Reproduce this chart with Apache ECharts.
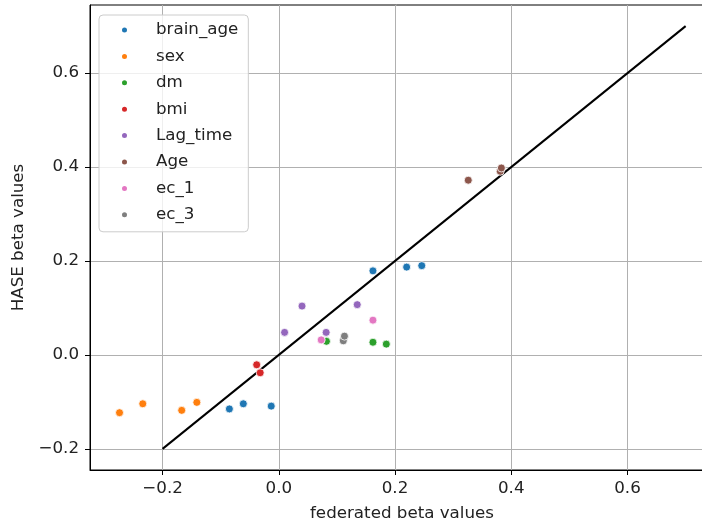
<!DOCTYPE html>
<html>
<head>
<meta charset="utf-8">
<script src="https://cdn.jsdelivr.net/npm/echarts@6/dist/echarts.min.js"></script>
<style>
  html, body { margin: 0; padding: 0; background: #fff; }
  #chart { width: 702px; height: 525px; }
</style>
</head>
<body>
<div id="chart"></div>
<script>
// Covariate effect estimates: federated (x) vs HASE (y)
const covariates = ['brain_age', 'sex', 'dm', 'bmi', 'Lag_time', 'Age', 'ec_1', 'ec_3'];

const brain_age = [[-0.085, -0.115], [-0.061, -0.104], [-0.013, -0.109], [0.162, 0.179], [0.220, 0.187], [0.246, 0.190]];
const sex       = [[-0.274, -0.123], [-0.234, -0.104], [-0.167, -0.118], [-0.141, -0.101]];
const dm        = [[0.082, 0.029], [0.162, 0.027], [0.185, 0.023]];
const bmi       = [[-0.038, -0.021], [-0.032, -0.038]];
const Lag_time  = [[0.010, 0.048], [0.040, 0.104], [0.0815, 0.048], [0.135, 0.107]];
const Age       = [[0.326, 0.372], [0.381, 0.391], [0.383, 0.398]];
const ec_1      = [[0.073, 0.032], [0.162, 0.074]];
const ec_3      = [[0.111, 0.030], [0.113, 0.040]];

const seriesValues = [brain_age, sex, dm, bmi, Lag_time, Age, ec_1, ec_3];

// identity reference line y = x
const identityLine = [[-0.2, -0.2], [0.7, 0.7]];

const xTicks = [-0.2, 0.0, 0.2, 0.4, 0.6];
const yTicks = [-0.2, 0.0, 0.2, 0.4, 0.6];

const palette = ['#1f77b4', '#ff7f0e', '#2ca02c', '#d62728', '#9467bd', '#8c564b', '#e377c2', '#7f7f7f'];

const fmt = v => v.toFixed(1).replace('-', '\u2212');
const FONT = '"DejaVu Sans", sans-serif';
const FS = 16.7;

const chart = echarts.init(document.getElementById('chart'), null, { renderer: 'canvas' });

const scatterSeries = covariates.map((name, i) => ({
  name: name,
  type: 'scatter',
  data: seriesValues[i],
  symbol: 'circle',
  symbolSize: 8,
  z: 3,
  itemStyle: { color: palette[i], borderColor: '#ffffff', borderWidth: 0.8, opacity: 1 },
  emphasis: { disabled: true }
}));

const axisCommon = {
  type: 'value',
  axisLine: { show: true, onZero: false, lineStyle: { color: '#000', width: 1 } },
  axisTick: { show: true, length: 5, inside: false, lineStyle: { color: '#000', width: 1 } },
  axisLabel: { color: '#222', fontFamily: FONT, fontSize: FS, formatter: fmt },
  splitLine: { show: true, lineStyle: { color: '#b0b0b0', width: 1 } },
  nameLocation: 'middle',
  nameTextStyle: { color: '#222', fontFamily: FONT, fontSize: FS }
};

chart.setOption({
  animation: false,
  backgroundColor: '#ffffff',
  color: palette,
  grid: {
    left: 90, top: 5, width: 624, height: 465,
    show: true, borderColor: '#000', borderWidth: 1, backgroundColor: 'transparent',
    outerBoundsMode: 'none'
  },
  xAxis: Object.assign({}, axisCommon, {
    min: -0.3248, max: 0.7488,
    name: 'federated beta values',
    nameGap: 35,
    axisLabel: Object.assign({}, axisCommon.axisLabel, { customValues: xTicks, margin: 10 }),
    axisTick: Object.assign({}, axisCommon.axisTick, { customValues: xTicks })
  }),
  yAxis: Object.assign({}, axisCommon, {
    min: -0.245, max: 0.745,
    name: 'HASE beta values',
    nameGap: 62,
    axisLabel: Object.assign({}, axisCommon.axisLabel, { customValues: yTicks, margin: 11 }),
    axisTick: Object.assign({}, axisCommon.axisTick, { customValues: yTicks })
  }),
  legend: {
    data: covariates,
    orient: 'vertical',
    left: 99, top: 15,
    icon: 'circle',
    itemWidth: 7, itemHeight: 7,
    itemGap: 8.4,
    padding: [6, 10, 8, 21],
    backgroundColor: 'rgba(255,255,255,0.8)',
    borderColor: '#cccccc', borderWidth: 1, borderRadius: 4,
    textStyle: { color: '#222', fontFamily: FONT, fontSize: FS, lineHeight: 18, padding: [0, 0, 0, 23] },
    selectedMode: false
  },
  series: scatterSeries.concat([{
    name: 'identity',
    type: 'line',
    data: identityLine,
    symbol: 'none',
    z: 2,
    lineStyle: { color: '#000', width: 2 },
    emphasis: { disabled: true }
  }])
});
</script>
</body>
</html>
